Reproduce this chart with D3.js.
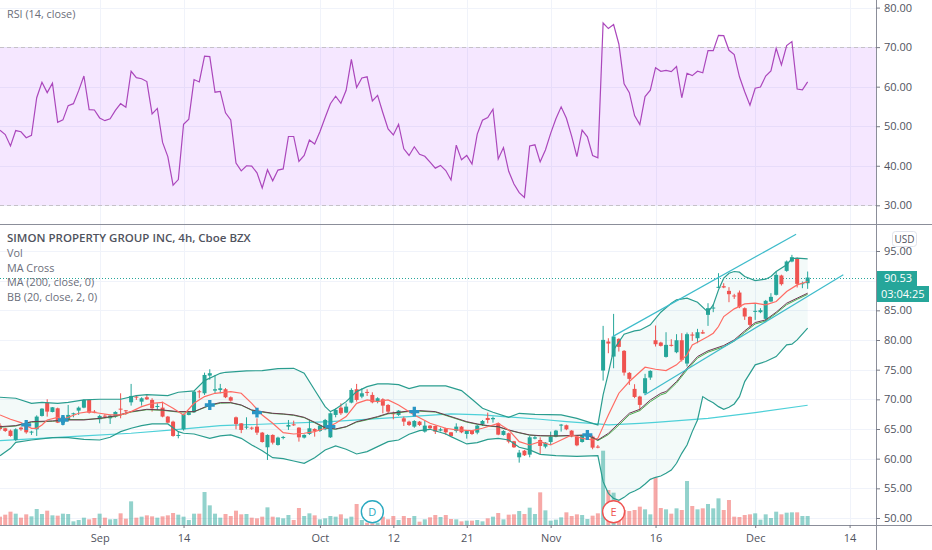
<!DOCTYPE html>
<html lang="en">
<head>
<meta charset="UTF-8">
<title>SPG 4h</title>
<script src="https://d3js.org/d3.v7.min.js"></script>
<style>
  body { margin: 0; background: #fff; overflow: hidden; }
  svg { display: block; font-family: "Open Sans", sans-serif; }
  .axis text { fill: #50535e; font-size: 11px; font-family: "Open Sans", sans-serif; }
  .axis line { stroke: #787b86; }
  .legend { fill: #6b6e7a; font-size: 10.8px; }
</style>
</head>
<body>
<svg id="chart" width="932" height="550"></svg>
<script>
// RSI (14, close), one per bar
const rsi = [49.0,47.9,45.0,48.9,48.6,47.1,47.7,57.2,61.1,58.5,60.9,51.0,51.6,55.2,55.7,59.0,62.7,54.2,54.1,52.1,
  51.4,51.9,54.0,55.7,54.8,63.9,62.3,62.0,61.3,53.1,54.5,45.9,42.3,35.1,36.5,50.5,51.8,61.8,61.2,67.7,
  67.6,58.6,58.8,53.4,51.6,40.7,38.7,40.0,39.9,38.2,34.4,39.0,36.2,38.9,39.2,47.4,47.4,41.1,42.6,46.5,
  45.5,48.6,52.2,55.7,57.6,55.8,59.1,66.9,59.8,62.2,62.5,56.4,57.8,53.4,49.3,47.8,50.5,44.3,42.6,44.8,
  42.9,42.4,40.9,39.4,40.1,38.8,36.4,45.2,41.5,42.6,40.4,48.0,51.5,52.2,54.3,41.7,44.6,38.6,35.4,33.2,
  32.0,45.0,45.3,41.0,44.0,48.2,51.9,54.9,52.0,47.5,42.3,49.0,47.3,42.6,42.0,76.1,74.7,75.7,70.8,60.7,
  58.5,52.7,50.4,57.5,59.1,64.8,63.9,64.1,63.8,65.1,57.2,63.4,62.8,63.9,63.5,69.1,69.1,73.0,72.9,69.2,
  68.1,62.5,58.7,55.3,59.6,59.9,62.7,64.0,69.7,65.5,70.4,71.4,59.4,59.2,61.2];

// candles
const opens = [65.57,65.12,64.73,63.15,65.23,65.68,64.39,64.95,67.2,69.45,
  67.87,68.49,65.96,66.64,67.54,68.1,68.6,69.9,67.93,66.64,
  67.25,66.8,67.09,68.43,68.15,69.5,70.46,69.61,70.35,69.9,
  68.77,68.6,67.09,66.24,63.83,64.95,67.37,67.82,71.36,71.02,
  74.0,71.47,71.58,71.7,70.35,66.97,65.96,65.29,65.23,65.4,
  64.39,61.92,64.0,62.31,63.55,65.4,65.79,65.23,63.55,64.16,
  65.01,64.67,64.95,63.6,67.37,68.6,67.76,69.45,71.7,70.46,
  71.25,70.74,69.61,70.01,69.05,67.65,67.37,66.8,66.24,65.4,
  66.24,64.56,65.57,65.51,64.73,65.12,64.44,64.67,65.4,64.16,
  64.73,64.39,65.79,66.86,66.64,65.96,64.0,64.28,62.93,60.23,
  61.35,60.68,63.38,63.15,62.03,62.81,63.71,65.57,65.63,64.73,
  63.71,62.81,63.71,63.71,62.03,74.85,79.74,77.21,80.19,78.17,
  74.46,71.76,70.47,71.03,73.67,79.96,79.57,77.15,79.18,77.94,
  79.96,76.03,80.92,80.30,81.31,84.24,85.36,88.79,89.07,88.28,
  87.5,88.0,85.36,83.9,84.8,84.69,83.56,86.48,87.61,90.87,
  91.65,93.23,93.79,89.46,89.57];
const closes = [65.01,64.67,63.83,64.95,64.95,64.44,64.56,67.09,68.43,67.93,
  68.66,66.07,67.09,67.37,67.65,68.6,69.9,67.76,67.82,67.2,
  67.14,67.25,67.87,68.27,68.04,70.57,70.35,70.18,70.0,68.49,
  68.88,67.09,66.07,63.83,64.0,67.48,67.82,71.3,71.25,74.11,
  74.4,71.7,71.86,70.35,69.78,65.85,64.84,65.4,65.12,64.39,
  62.81,64.0,62.7,63.55,63.66,65.68,65.68,63.6,64.0,65.12,
  64.67,65.57,66.52,67.65,68.21,67.65,68.77,71.58,69.9,71.02,
  71.08,69.5,70.18,68.94,67.93,67.54,68.1,66.24,65.68,66.35,
  65.68,65.57,65.12,64.56,64.95,64.44,63.83,65.4,64.44,64.73,
  64.16,65.57,66.35,66.52,66.86,64.05,64.67,62.87,61.92,61.02,
  60.57,63.6,63.6,62.14,62.7,63.71,64.73,65.74,64.95,63.71,
  62.25,63.83,64.0,61.86,61.86,80.02,79.40,80.58,78.84,74.51,
  73.45,70.4,69.06,73.56,74.79,79.29,79.01,79.18,79.07,79.96,
  76.65,80.98,80.75,81.31,81.09,85.36,85.47,88.96,88.85,87.72,
  87.38,85.53,83.96,82.55,84.91,85.02,86.6,87.27,90.98,89.41,
  93.23,93.96,89.46,89.57,90.53];
const highs = [65.96,65.2,64.9,65.12,65.4,65.9,64.7,67.3,68.5,70.01,
  68.7,68.6,67.3,69.05,67.76,68.8,70.0,70.0,68.2,67.4,
  67.5,67.4,68.0,71.02,68.2,72.6,70.74,70.35,70.74,70.18,
  69.33,69.6,67.2,66.4,64.56,67.6,67.9,71.4,71.58,74.5,
  75.07,74.11,72.6,71.9,70.5,67.1,66.0,66.97,65.4,66.8,
  64.5,64.1,64.1,63.7,63.83,66.52,66.41,65.3,64.1,66.52,
  65.12,65.7,66.7,67.8,68.49,69.33,69.33,71.86,72.6,71.86,
  71.7,71.19,70.35,70.18,69.2,67.93,68.2,67.09,66.4,66.5,
  66.35,66.35,65.68,65.6,65.23,65.2,64.5,65.96,65.5,64.8,
  64.8,65.7,66.52,67.76,67.09,66.1,64.8,64.39,63.0,61.47,
  61.47,63.83,63.83,63.6,62.8,64.56,64.85,65.85,65.74,64.8,
  63.8,63.95,64.5,63.9,62.31,82.38,80.3,84.4,80.3,78.3,
  74.6,72.55,70.6,74.3,74.9,82.44,79.7,81.31,80.13,80.98,
  81.15,81.26,81.31,81.88,81.71,86.2,86.03,91.26,89.57,88.9,
  87.78,88.34,85.5,84.0,86.2,85.36,86.75,87.89,91.54,91.0,
  93.4,94.35,93.9,89.86,91.54];
const lows = [64.73,64.5,63.7,62.98,64.7,64.2,64.0,63.83,67.1,67.09,
  67.8,66.0,65.6,66.24,66.97,67.37,68.5,67.6,67.65,65.96,
  66.8,65.85,66.9,66.8,67.37,68.94,69.9,68.94,69.9,67.93,
  68.21,66.97,66.0,63.7,63.43,64.73,67.3,67.7,70.18,70.74,
  73.3,71.02,71.02,70.2,69.6,64.95,64.3,64.95,64.84,64.0,
  62.7,59.78,62.4,62.2,63.26,64.84,65.51,62.87,63.4,64.0,
  63.71,64.5,64.8,63.5,66.97,67.37,67.65,69.33,69.61,70.18,
  70.57,69.33,69.33,67.65,67.54,66.64,67.2,65.51,65.5,65.2,
  65.5,64.39,65.0,64.16,64.6,64.0,63.7,64.39,64.3,63.38,
  64.0,64.11,65.51,65.96,66.07,63.95,63.9,62.59,61.8,59.33,
  60.45,60.23,63.26,60.79,61.75,62.31,63.6,64.56,64.8,63.6,
  62.1,62.7,63.5,61.58,61.75,73.16,77.77,75.24,78.05,74.0,
  72.43,70.2,68.1,70.75,73.28,78.9,78.9,77.04,78.9,77.77,
  76.37,75.53,79.85,79.46,81.03,82.38,84.69,88.73,88.73,86.37,
  86.93,85.36,83.39,82.27,83.39,84.52,83.0,86.37,87.5,89.18,
  91.5,93.1,88.85,88.73,88.62];

// volume, relative units
const volumes = [25,31,40,34,22,32,26,48,33,43,29,28,34,33,11,15,22,17,21,34,
  22,17,18,35,19,71,22,25,29,26,22,26,29,36,31,25,15,34,34,99,
  59,34,22,33,27,43,32,33,22,20,25,53,25,23,20,30,15,51,27,35,
  29,17,20,27,25,32,19,25,63,15,7,5,7,25,17,27,15,27,21,27,
  10,17,23,30,24,30,18,17,11,13,13,15,11,20,25,36,17,31,32,42,
  33,52,33,98,44,13,16,23,38,27,32,30,18,28,35,223,105,97,40,45,
  42,45,55,47,32,143,51,47,34,50,45,132,57,47,50,63,50,80,45,75,
  25,24,30,32,35,16,32,21,40,32,37,38,38,27,27];

// Bollinger upper, read at bends
const bbUpperAt = [0,3,6,8,11,13,16,19,23,26,28,32,34,37,39,42,43,47,50,53,56,58,60,62,63,64,66,68,70,72,74,76,78,80,85,88,90,92,94,97,99,102,107,110,113,114,
  115,116,117,119,121,122,124,126,128,129,131,133,135,136,137,138,139,140,141,142,144,146,147,148,150,151,152,154];
const bbUpper = [70.35,70.18,69.33,69.5,69.33,69.5,69.9,70.01,70.01,70.63,70.8,70.63,71.19,71.41,73.16,74.39,74.56,74.79,74.84,75.18,75.23,74.39,71.58,68.77,67.93,68.38,69.61,71.3,72.14,72.59,72.59,72.48,71.81,72.26,72.26,71.47,70.01,68.49,67.82,66.97,67.65,67.48,67.37,66.8,65.96,65.68,
  70.75,74.4,78.34,80.98,81.54,81.65,82.55,84.69,86.2,86.77,87.05,86.37,84.69,85.92,88.45,90.42,91.26,91.54,91.43,90.7,90.02,90.25,90.7,91.54,92.67,93.73,93.79,93.68];

// Bollinger lower
const bbLowerAt = [0,2,3,6,10,13,16,19,21,23,25,27,29,32,34,35,37,40,42,44,46,48,50,52,54,56,58,60,62,64,66,68,70,72,74,76,78,80,82,85,86,89,91,93,95,97,99,101,103,106,110,114,
  115,116,117,118,119,120,121,122,123,124,125,126,127,128,129,130,131,132,133,134,135,136,137,138,139,140,141,142,144,146,148,150,151,152,154];
const bbLower = [60.51,61.75,62.76,63.15,63.55,63.55,63.26,63.15,63.6,64.56,65.12,65.57,65.85,65.85,64.56,64.28,64.16,63.43,63.83,64.0,63.43,62.31,61.35,60.17,60.0,59.61,59.22,60.17,61.47,62.14,61.58,60.79,61.19,62.03,62.87,63.15,64.11,64.73,64.95,64.16,63.71,62.48,62.7,63.26,63.43,63.15,61.92,61.47,60.73,60.51,60.4,60.51,
  56.13,54.16,53.31,52.98,53.48,54.16,54.55,55.0,55.73,56.52,56.86,57.08,57.53,58.09,59.22,60.9,62.31,64.56,66.52,70.46,69.89,69.44,68.77,68.32,68.66,69.22,70.46,72.99,75.81,76.37,77.21,79.18,79.29,80.02,81.99];

// MA cross, fast line
const maFastAt = [0,2,4,6,7,8,9,11,12,15,17,19,21,23,25,27,29,31,33,35,37,39,41,44,46,48,50,52,54,56,58,60,62,64,66,68,70,72,74,76,79,82,85,87,90,92,95,97,99,101,103,105,107,109,111,113,114,115,116,
  118,120,123,125,127,129,131,132,133,135,136,137,138,140,142,144,146,148,150,152,154];
const maFast = [67.37,66.64,66.07,65.12,65.12,65.68,66.52,66.97,66.64,67.65,67.93,67.65,67.37,67.37,67.93,68.77,69.33,69.5,68.49,67.37,69.33,70.46,71.02,71.3,71.02,69.33,67.37,65.96,64.39,64.16,64.28,64.56,65.12,65.96,67.09,69.33,69.9,69.61,69.9,69.05,67.37,65.96,65.12,64.84,64.73,65.12,65.96,64.84,62.87,62.31,62.87,62.31,63.15,64.0,63.43,63.15,63.43,65.4,67.37,
  71.03,73.0,75.41,75.07,74.85,75.81,77.49,79.18,79.63,80.58,81.14,82.27,83.95,85.25,86.09,86.2,85.92,86.48,88.17,89.29,89.86];

// MA cross slow line and BB basis run close together
const midAt = [0,3,6,10,13,16,19,22,25,28,31,34,37,40,42,44,46,48,50,52,54,56,58,60,62,64,66,68,70,72,74,76,78,80,83,86,89,91,93,95,97,99,101,103,106,110,112,114,
  116,118,120,122,124,126,127,129,131,133,135,138,140,142,144,146,148,150,152,154];
const bbBasis = [65.4,65.57,66.24,66.36,66.52,66.52,66.8,67.2,67.93,68.32,68.21,67.93,67.93,69.05,69.45,69.45,69.05,68.21,67.93,67.65,67.54,67.37,66.97,66.13,65.23,65.01,65.4,66.24,66.64,67.09,67.65,67.82,68.04,68.1,67.93,67.09,66.24,65.85,65.57,65.4,64.84,64.39,64.0,63.88,63.83,63.94,64.0,63.15,
  64.27,65.96,67.65,68.32,69.89,71.02,71.31,73.0,75.24,77.21,78.17,79.07,80.02,81.54,82.94,83.39,84.69,86.2,87.05,87.89];
const maSlow = [65.3,65.5,66.15,66.3,66.6,66.6,66.75,67.1,67.85,68.25,68.15,67.85,67.9,68.95,69.35,69.4,69.0,68.15,67.85,67.6,67.5,67.3,66.9,66.05,65.15,64.95,65.35,66.15,66.55,67.0,67.55,67.75,67.95,68.0,67.85,67.0,66.15,65.8,65.5,65.35,64.8,64.35,63.95,63.85,63.8,63.9,63.95,63.05,
  64.05,65.65,67.4,68.1,69.6,70.75,71.05,72.75,74.95,76.95,77.95,78.85,79.8,81.3,82.7,83.2,84.5,85.95,86.85,87.7];

// MA (200, close, 0)
const ma200At = [0,6,16,25,33,42,46,63,78,86,92,96,103,108,114,116,122,125,135,144,154];
const ma200 = [63.04,63.32,63.83,64.28,64.84,65.57,65.68,66.24,67.09,67.54,67.37,67.09,66.64,66.24,65.85,65.68,65.96,66.13,66.8,67.76,69.0];

// MA cross markers
const crossAt = [5,12,40,49,63,79,112];
const crossPrice = [65.68,66.52,69.05,67.76,65.4,67.93,64.0];

// channel drawn on the chart: [bar, price]
const channelUpper = [[116.8,80.57],[151.8,97.84]];
const channelLower = [[122.9,70.74],[160.8,90.98]];

// axes
const timeTicks = [19,35,61,75,89,105,125,144,162];
const timeLabels = ["Sep","14","Oct","12","21","Nov","16","Dec","14"];
const priceTicks = [50,55,60,65,70,75,80,85,95];
const priceGrid = [50,55,60,65,70,75,80,85,90,95];
const rsiTicks = [30,40,50,60,70,80];
const lastPrice = 90.53;
const countdown = "03:04:25";
const legendLines = ["Vol","MA Cross","MA (200, close, 0)","BB (20, close, 2, 0)"];

const green = "#26a69a", red = "#ef5350";
const axisX = 876, rsiBottom = 224, priceBottom = 525;

const svg = d3.select("#chart");
const x = d3.scaleLinear().domain([0, 162]).range([0, 849.6]);
const yRsi = d3.scaleLinear().domain([30, 80]).range([205.3, 7.6]);
const yPrice = d3.scaleLinear().domain([50, 95]).range([518, 251]);
const yVol = d3.scaleLinear().domain([0, 223]).range([priceBottom, priceBottom - 74.3]);

const plot = svg.append("g");

// gridlines
plot.append("g").selectAll("line").data(timeTicks).enter().append("line")
  .attr("x1", d => Math.round(x(d)) + 0.5).attr("x2", d => Math.round(x(d)) + 0.5)
  .attr("y1", 0).attr("y2", priceBottom).attr("stroke", "#f0f3fa");
plot.append("g").selectAll("line").data(rsiTicks).enter().append("line")
  .attr("x1", 0).attr("x2", axisX)
  .attr("y1", d => Math.round(yRsi(d)) + 0.5).attr("y2", d => Math.round(yRsi(d)) + 0.5).attr("stroke", "#f0f3fa");
plot.append("g").selectAll("line").data(priceGrid).enter().append("line")
  .attr("x1", 0).attr("x2", axisX)
  .attr("y1", d => Math.round(yPrice(d)) + 0.5).attr("y2", d => Math.round(yPrice(d)) + 0.5).attr("stroke", "#f0f3fa");

// RSI band
plot.append("rect").attr("x", 0).attr("width", axisX)
  .attr("y", yRsi(70)).attr("height", yRsi(30) - yRsi(70))
  .attr("fill", "#9915ff").attr("fill-opacity", 0.1);
[70, 30].forEach(v => {
  plot.append("line").attr("x1", 0).attr("x2", axisX)
    .attr("y1", Math.round(yRsi(v)) + 0.5).attr("y2", Math.round(yRsi(v)) + 0.5)
    .attr("stroke", "#c5c1c8").attr("stroke-dasharray", "4,3");
});
plot.append("path").datum(rsi)
  .attr("fill", "none").attr("stroke", "#ab47bc").attr("stroke-width", 1.2)
  .attr("d", d3.line().x((d, i) => x(i)).y(d => yRsi(d)));

// volume
plot.append("g").selectAll("rect").data(volumes).enter().append("rect")
  .attr("x", (d, i) => x(i) - 2).attr("width", 4)
  .attr("y", d => yVol(d)).attr("height", d => priceBottom - yVol(d))
  .attr("fill", (d, i) => closes[i] >= opens[i] ? green : red).attr("fill-opacity", 0.5);

// bollinger fill and lines
const priceLine = d3.line().x(d => x(d[0])).y(d => yPrice(d[1]));
const upperPts = bbUpperAt.map((b, i) => [b, bbUpper[i]]);
const lowerPts = bbLowerAt.map((b, i) => [b, bbLower[i]]);
plot.append("path").attr("d", priceLine(upperPts.concat(lowerPts.slice().reverse())) + "Z")
  .attr("fill", green).attr("fill-opacity", 0.055);

plot.append("path").attr("d", priceLine(ma200At.map((b, i) => [b, ma200[i]])))
  .attr("fill", "none").attr("stroke", "#4dd0d8").attr("stroke-width", 1.2);

// dotted last price line
plot.append("line").attr("x1", 0).attr("x2", axisX)
  .attr("y1", Math.round(yPrice(lastPrice)) + 0.5).attr("y2", Math.round(yPrice(lastPrice)) + 0.5)
  .attr("stroke", green).attr("stroke-dasharray", "1,2");

// candles
const candles = plot.append("g").selectAll("g").data(opens).enter().append("g")
  .attr("fill", (d, i) => closes[i] >= d ? green : red)
  .attr("stroke", (d, i) => closes[i] >= d ? green : red);
candles.append("line")
  .attr("x1", (d, i) => x(i)).attr("x2", (d, i) => x(i))
  .attr("y1", (d, i) => yPrice(highs[i])).attr("y2", (d, i) => yPrice(lows[i]))
  .attr("stroke-width", 1);
candles.append("rect")
  .attr("x", (d, i) => x(i) - 2).attr("width", 4)
  .attr("y", (d, i) => yPrice(Math.max(d, closes[i])))
  .attr("height", (d, i) => Math.max(1, Math.abs(yPrice(d) - yPrice(closes[i]))))
  .attr("stroke", "none");

// BB bands on top of candles
[upperPts, lowerPts].forEach(pts => {
  plot.append("path").attr("d", priceLine(pts))
    .attr("fill", "none").attr("stroke", "#2a9d8f").attr("stroke-width", 1.2);
});

// MA cross and basis
plot.append("path").attr("d", priceLine(midAt.map((b, i) => [b, maSlow[i]])))
  .attr("fill", "none").attr("stroke", "#4caf50").attr("stroke-width", 1);
plot.append("path").attr("d", priceLine(midAt.map((b, i) => [b, bbBasis[i]])))
  .attr("fill", "none").attr("stroke", "#6b3a52").attr("stroke-width", 1);
plot.append("path").attr("d", priceLine(maFastAt.map((b, i) => [b, maFast[i]])))
  .attr("fill", "none").attr("stroke", "#ff6b63").attr("stroke-width", 1.2);

// crosses
plot.append("g").selectAll("path").data(crossAt).enter().append("path")
  .attr("d", d3.symbol().type(d3.symbolCross).size(55))
  .attr("transform", (d, i) => `translate(${x(d)},${yPrice(crossPrice[i])})`)
  .attr("fill", "#2a95c4");

// channel lines
[channelUpper, channelLower].forEach(pts => {
  plot.append("path").attr("d", priceLine(pts))
    .attr("fill", "none").attr("stroke", "#3fbccb").attr("stroke-width", 1.2);
});

// dividend and earnings flags
const flags = [{ bar: 71, label: "D", color: "#2aa9c0" }, { bar: 117, label: "E", color: red }];
const flag = plot.append("g").selectAll("g").data(flags).enter().append("g")
  .attr("transform", d => `translate(${x(d.bar)},511.7)`);
flag.append("circle").attr("r", 11).attr("fill", "#fff")
  .attr("stroke", d => d.color).attr("stroke-width", 1.4);
flag.append("text").attr("text-anchor", "middle").attr("dy", "0.36em")
  .attr("font-size", 11).attr("fill", d => d.color).text(d => d.label);

// panel frame
svg.append("rect").attr("x", axisX).attr("y", 0).attr("width", 932 - axisX).attr("height", 550).attr("fill", "#fff");
svg.append("rect").attr("x", 0).attr("y", priceBottom).attr("width", 932).attr("height", 25).attr("fill", "#fff");
[rsiBottom, priceBottom].forEach(y => {
  svg.append("line").attr("x1", 0).attr("x2", 932).attr("y1", y + 0.5).attr("y2", y + 0.5).attr("stroke", "#8b8e99");
});
svg.append("line").attr("x1", axisX + 0.5).attr("x2", axisX + 0.5).attr("y1", 0).attr("y2", 550).attr("stroke", "#8b8e99");

// axes
const rsiAxis = d3.axisRight(yRsi).tickValues(rsiTicks).tickSize(4).tickPadding(4).tickFormat(d => d.toFixed(2));
svg.append("g").attr("class", "axis").attr("transform", `translate(${axisX},0)`).call(rsiAxis).select(".domain").remove();
const priceAxis = d3.axisRight(yPrice).tickValues(priceTicks).tickSize(4).tickPadding(4).tickFormat(d => d.toFixed(2));
svg.append("g").attr("class", "axis").attr("transform", `translate(${axisX},0)`).call(priceAxis).select(".domain").remove();
const timeAxis = d3.axisBottom(x).tickValues(timeTicks).tickSize(3).tickPadding(6)
  .tickFormat((d, i) => timeLabels[i]);
svg.append("g").attr("class", "axis").attr("transform", `translate(0,${priceBottom})`).call(timeAxis).select(".domain").remove();

// last price labels
const lastY = Math.round(yPrice(lastPrice));
svg.append("rect").attr("x", axisX + 1).attr("y", lastY - 7).attr("width", 40).attr("height", 15).attr("fill", green);
svg.append("text").attr("x", axisX + 8).attr("y", lastY).attr("dy", "0.36em")
  .attr("font-size", 11).attr("fill", "#fff").text(lastPrice.toFixed(2));
svg.append("rect").attr("x", axisX + 1).attr("y", lastY + 8).attr("width", 52).attr("height", 16).attr("fill", green);
svg.append("text").attr("x", axisX + 5).attr("y", lastY + 16).attr("dy", "0.36em")
  .attr("font-size", 11).attr("fill", "#fff").text(countdown);

// USD button
svg.append("rect").attr("x", 892.5).attr("y", 231.5).attr("width", 24).attr("height", 15).attr("rx", 3)
  .attr("fill", "#fff").attr("stroke", "#e0e3eb");
svg.append("text").attr("x", 904.5).attr("y", 239).attr("dy", "0.36em").attr("text-anchor", "middle")
  .attr("font-size", 10).attr("fill", "#50535e").text("USD");

// legends
svg.append("text").attr("class", "legend").attr("x", 7).attr("y", 14).attr("dy", "0.36em").text("RSI (14, close)");
svg.append("text").attr("x", 7).attr("y", 238).attr("dy", "0.36em")
  .attr("font-size", 11.5).attr("font-weight", 600).attr("fill", "#50535e")
  .text("SIMON PROPERTY GROUP INC, 4h, Cboe BZX");
svg.selectAll("text.sub").data(legendLines).enter().append("text")
  .attr("class", "legend sub").attr("x", 7)
  .attr("y", (d, i) => 253 + i * 14.7).attr("dy", "0.36em").text(d => d);
</script>
</body>
</html>
